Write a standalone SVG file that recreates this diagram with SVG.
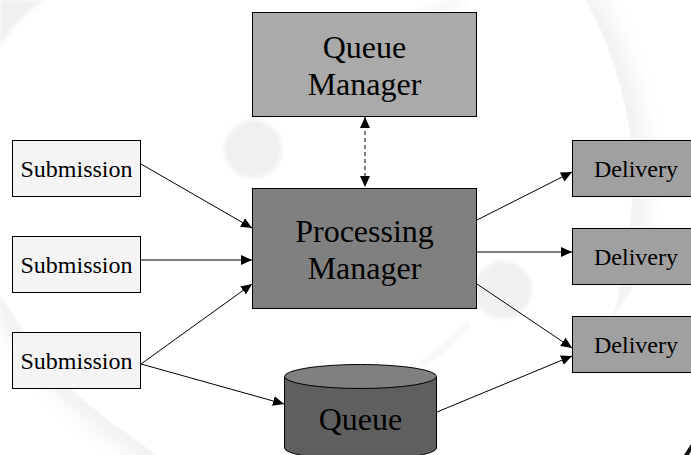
<svg xmlns="http://www.w3.org/2000/svg" width="691" height="455" viewBox="0 0 691 455">
<style>
.n{stroke:#000;stroke-width:1}
.t{font-family:"Liberation Serif","Times New Roman",serif;fill:#000;text-anchor:middle}
.s{font-size:24px}
.b{font-size:32px}
.c{stroke:#000;stroke-width:1;fill:none;marker-end:url(#a)}
.w{fill:none;stroke:#ececec;stroke-width:22}
</style>
<defs>
<marker id="a" markerUnits="userSpaceOnUse" markerWidth="12" markerHeight="12" refX="11" refY="5" orient="auto"><path d="M0 0L11 5L0 10Z" fill="#000"/></marker>
<marker id="r" markerUnits="userSpaceOnUse" markerWidth="12" markerHeight="12" refX="0" refY="5" orient="auto"><path d="M11 0L0 5L11 10Z" fill="#000"/></marker>
<filter id="bs" x="-30%" y="-30%" width="160%" height="160%"><feGaussianBlur stdDeviation="2"/></filter>
<filter id="bw" x="-50%" y="-20%" width="200%" height="140%"><feGaussianBlur stdDeviation="12"/></filter>
<clipPath id="cr"><path d="M582 -5C605 30 625 90 631 140C636 190 630 260 612 318C640 280 691 200 691 140V-5Z"/></clipPath>
<clipPath id="cl"><path d="M-5 288C20 325 45 365 70 388C100 415 130 437 165 460H-5Z"/></clipPath>
</defs>
<rect width="691" height="455" fill="#fff"/>
<g id="background">
<path d="M0 0H45C28 10 12 25 0 48Z" fill="#efefef" filter="url(#bs)"/>
<g clip-path="url(#cr)"><path class="w" filter="url(#bw)" d="M582 -5C605 30 625 90 631 140C636 190 630 260 612 318"/></g>
<g clip-path="url(#cl)"><path class="w" filter="url(#bw)" d="M-5 288C20 325 45 365 70 388C100 415 130 437 165 460"/></g>
<path d="M410 12L450 0H470L450 12Z" fill="#f7f7f7" filter="url(#bs)"/>
<circle cx="253" cy="149" r="29" fill="#f0f0f0" filter="url(#bs)"/>
<circle cx="503" cy="290" r="29" fill="#f0f0f0" filter="url(#bs)"/>
<path d="M468 322C450 340 435 352 418 364L424 365C442 355 458 340 471 325Z" fill="#f4f4f4" filter="url(#bs)"/>
<path d="M684 455L691 444V451L689 455Z" fill="#111"/>
</g>
<g id="connectors">
<path class="c" d="M141 164L252 228"/>
<path class="c" d="M141 260H252"/>
<path class="c" d="M141 364L252 284"/>
<path class="c" d="M141 364L284 404"/>
<path class="c" d="M477 220L572 172"/>
<path class="c" d="M477 252H572"/>
<path class="c" d="M477 284L572 348"/>
<path class="c" d="M437 412L572 356"/>
<path d="M365 117V187" stroke="#000" fill="none" stroke-dasharray="4 3" marker-start="url(#r)" marker-end="url(#a)"/>
</g>
<g id="queue-manager"><rect class="n" x="252.500" y="12.500" width="224" height="104" fill="#aaa"/><text class="t b" x="364.500" y="58">Queue</text><text class="t b" x="364.500" y="95">Manager</text></g>
<g id="processing-manager"><rect class="n" x="252.500" y="188.500" width="224" height="120" fill="#808080"/><text class="t b" x="364.500" y="242">Processing</text><text class="t b" x="364.500" y="279">Manager</text></g>
<g id="submission-1"><rect class="n" x="12.500" y="140.500" width="128" height="56" fill="#f4f4f4"/><text class="t s" x="76.500" y="177">Submission</text></g>
<g id="submission-2"><rect class="n" x="12.500" y="236.500" width="128" height="56" fill="#f4f4f4"/><text class="t s" x="76.500" y="273">Submission</text></g>
<g id="submission-3"><rect class="n" x="12.500" y="332.500" width="128" height="56" fill="#f4f4f4"/><text class="t s" x="76.500" y="369">Submission</text></g>
<g id="delivery-1"><rect class="n" x="572.500" y="140.500" width="124" height="56" fill="#a0a0a0"/><text class="t s" x="636" y="177">Delivery</text></g>
<g id="delivery-2"><rect class="n" x="572.500" y="228.500" width="124" height="56" fill="#a0a0a0"/><text class="t s" x="636" y="265">Delivery</text></g>
<g id="delivery-3"><rect class="n" x="572.500" y="316.500" width="124" height="56" fill="#a0a0a0"/><text class="t s" x="636" y="353">Delivery</text></g>
<g id="queue">
<path class="n" d="M284.500 376.500V448C284.500 454 318 460 360.500 460S436.500 454 436.500 448V376.500Z" fill="#5f5f5f"/>
<ellipse class="n" cx="360.500" cy="376.500" rx="76" ry="12" fill="#808080"/>
<text class="t b" x="360.500" y="430">Queue</text>
</g>
</svg>
